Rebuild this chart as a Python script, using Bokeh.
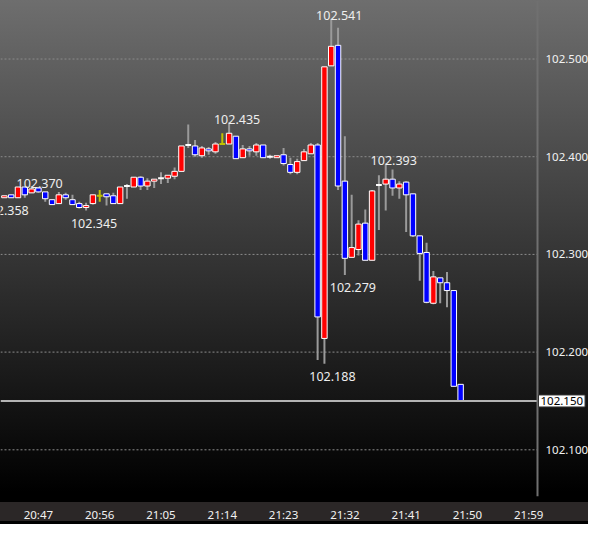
import numpy as np
from bokeh.plotting import figure
from bokeh.models import ColumnDataSource, FixedTicker, PrintfTickFormatter, Label, Range1d
from bokeh.core.properties import value
from bokeh.embed import file_html
from bokeh.resources import INLINE

# ---- data: one-minute candles, index = minutes after 20:42 ----
minute = list(range(68))
opens = [102.358, 102.361, 102.358, 102.369, 102.363, 102.368, 102.364, 102.356, 102.352, 102.361,
         102.356, 102.352, 102.348, 102.352, 102.360, 102.362, 102.360, 102.352, 102.370, 102.369,
         102.379, 102.370, 102.375, 102.378, 102.378, 102.380, 102.385, 102.412, 102.411, 102.401,
         102.408, 102.405, 102.413, 102.413, 102.421, 102.399, 102.408, 102.405, 102.412, 102.400,
         102.399, 102.402, 102.392, 102.384, 102.396, 102.403, 102.412, 102.214, 102.493, 102.514,
         102.375, 102.297, 102.305, 102.332, 102.294, 102.371, 102.372, 102.377, 102.368, 102.374,
         102.362, 102.319, 102.302, 102.250, 102.276, 102.271, 102.263, 102.167]
highs = [102.360, 102.361, 102.369, 102.369, 102.370, 102.369, 102.364, 102.356, 102.364, 102.363,
         102.361, 102.354, 102.353, 102.361, 102.366, 102.362, 102.363, 102.369, 102.372, 102.379,
         102.380, 102.378, 102.377, 102.384, 102.381, 102.389, 102.411, 102.433, 102.417, 102.411,
         102.410, 102.415, 102.424, 102.435, 102.421, 102.412, 102.411, 102.414, 102.412, 102.402,
         102.401, 102.409, 102.399, 102.398, 102.408, 102.414, 102.414, 102.492, 102.541, 102.532,
         102.421, 102.361, 102.335, 102.346, 102.366, 102.381, 102.393, 102.387, 102.375, 102.375,
         102.362, 102.319, 102.312, 102.283, 102.276, 102.282, 102.263, 102.167]
lows = [102.358, 102.358, 102.358, 102.358, 102.363, 102.363, 102.354, 102.351, 102.352, 102.356,
        102.351, 102.347, 102.345, 102.351, 102.354, 102.350, 102.352, 102.352, 102.357, 102.369,
        102.366, 102.366, 102.368, 102.372, 102.373, 102.377, 102.385, 102.409, 102.400, 102.399,
        102.402, 102.403, 102.413, 102.413, 102.398, 102.399, 102.401, 102.401, 102.399, 102.398,
        102.399, 102.391, 102.382, 102.382, 102.396, 102.403, 102.192, 102.188, 102.493, 102.366,
        102.279, 102.297, 102.299, 102.294, 102.294, 102.325, 102.345, 102.360, 102.357, 102.323,
        102.318, 102.273, 102.250, 102.249, 102.250, 102.246, 102.165, 102.150]
closes = [102.360, 102.358, 102.369, 102.361, 102.367, 102.364, 102.357, 102.351, 102.361, 102.358,
          102.351, 102.348, 102.350, 102.361, 102.360, 102.359, 102.352, 102.369, 102.370, 102.379,
          102.370, 102.375, 102.377, 102.378, 102.381, 102.385, 102.411, 102.412, 102.402, 102.409,
          102.406, 102.413, 102.413, 102.424, 102.398, 102.408, 102.406, 102.412, 102.399, 102.400,
          102.401, 102.393, 102.384, 102.395, 102.405, 102.412, 102.236, 102.492, 102.513, 102.370,
          102.296, 102.307, 102.331, 102.294, 102.365, 102.371, 102.377, 102.368, 102.372, 102.361,
          102.319, 102.301, 102.251, 102.277, 102.271, 102.263, 102.165, 102.150]

tick_minutes = [5, 14, 23, 32, 41, 50, 59, 68, 77]
tick_labels = ["20:47", "20:56", "21:05", "21:14", "21:23", "21:32", "21:41", "21:50", "21:59"]
price_ticks = [102.1, 102.2, 102.3, 102.4, 102.5]

high_label_minute = [4, 33, 48, 56]
high_label_value = [102.370, 102.435, 102.541, 102.393]
low_label_minute = [-1, 12, 47, 50]
low_label_value = [102.358, 102.345, 102.188, 102.279]

# ---- styling ----
UP, DOWN, WICK, DOJI, DOJI_HI = "#ff0000", "#0000ff", "#9a9a9a", "#ffffff", "#c2c200"
highlight_doji = {14, 32}
FONT = "Noto Sans"
X_START, X_AXIS, X_END = -0.57, 78.29, 85.78   # chart area ends at the price axis; labels beyond

o = np.array(opens); c = np.array(closes); h = np.array(highs); l = np.array(lows)
x = np.array(minute)
doji = o == c
wick_col = [DOJI_HI if (d and i in highlight_doji) else WICK for i, d in zip(minute, doji)]

p = figure(width=588, height=524,
           x_range=Range1d(X_START, X_END), y_range=Range1d(102.0522, 102.5599),
           output_backend="svg", toolbar_location=None, y_axis_location="right",
           min_border_left=0, min_border_top=0, min_border_right=0, min_border_bottom=22)
p.background_fill_color = None
p.border_fill_color = None
p.outline_line_color = None
p.styles = {"background-image": "linear-gradient(to bottom, #6e6e6e 0px, #000000 492px, #000000 502px, "
                                 "#2b2727 502px, #2b2727 521px, #000000 521px)"}

p.xgrid.grid_line_color = None
p.ygrid.grid_line_color = None

# dashed price grid, only across the chart area
p.segment(x0=[X_START] * len(price_ticks), y0=price_ticks, x1=[X_AXIS] * len(price_ticks), y1=price_ticks,
          line_color="#8c8c8c", line_width=1, line_dash="2 2")

# wicks
p.segment(x0=x, y0=l, x1=x, y1=h, line_color=wick_col, line_width=2)

# bodies
nb = ~doji
body = ColumnDataSource(dict(x=x[nb], top=np.maximum(o, c)[nb], bottom=np.minimum(o, c)[nb],
                             col=[UP if cc > oo else DOWN for oo, cc in zip(o[nb], c[nb])]))
p.vbar(x="x", top="top", bottom="bottom", width=0.8, fill_color="col",
       line_color="white", line_width=1, source=body)

# doji bars
dj = ColumnDataSource(dict(x=x[doji], y=c[doji],
                           col=[DOJI_HI if i in highlight_doji else DOJI for i in x[doji]]))
p.rect(x="x", y="y", width=0.85, height=2, height_units="screen",
       fill_color="col", line_color=None, source=dj)

# current price line + box
p.segment(x0=[X_START], y0=[closes[-1]], x1=[X_AXIS], y1=[closes[-1]], line_color="#b4b4b4", line_width=2)
p.add_layout(Label(x=X_AXIS, y=closes[-1], text=f"{closes[-1]:.3f}", x_offset=1,
                   text_baseline="middle", text_align="left", text_color="black",
                   text_font=FONT, text_font_size="11.5px",
                   background_fill_color="white", border_line_color="#333333", padding=2))

# high / low labels
p.text(x=high_label_minute, y=high_label_value, text=[f"{v:.3f}" for v in high_label_value],
       text_font=value(FONT), text_font_size="12.5px", text_color="#eeeeee",
       text_align="center", text_baseline="alphabetic", x_offset=8, y_offset=-3)
p.text(x=low_label_minute, y=low_label_value, text=[f"{v:.3f}" for v in low_label_value],
       text_font=value(FONT), text_font_size="12.5px", text_color="#eeeeee",
       text_align="center", text_baseline="alphabetic", x_offset=8, y_offset=13)

# axes
ya = p.yaxis[0]
ya.fixed_location = X_AXIS
ya.ticker = FixedTicker(ticks=price_ticks)
ya.formatter = PrintfTickFormatter(format="%.3f")
ya.major_tick_line_color = None
ya.minor_tick_line_color = None
ya.axis_line_color = "#707070"
ya.axis_line_width = 2
ya.major_label_standoff = 2
ya.major_label_text_color = "#f2f2f2"
ya.major_label_text_font = FONT
ya.major_label_text_font_size = "11.5px"

xa = p.xaxis[0]
xa.ticker = FixedTicker(ticks=tick_minutes)
xa.major_label_overrides = {t: s for t, s in zip(tick_minutes, tick_labels)}
xa.major_tick_line_color = None
xa.minor_tick_line_color = None
xa.axis_line_color = None
xa.major_label_standoff = 4
xa.major_label_text_color = "#f2f2f2"
xa.major_label_text_font = FONT
xa.major_label_text_font_size = "11.5px"

open("out.html", "w").write(file_html(p, INLINE))
